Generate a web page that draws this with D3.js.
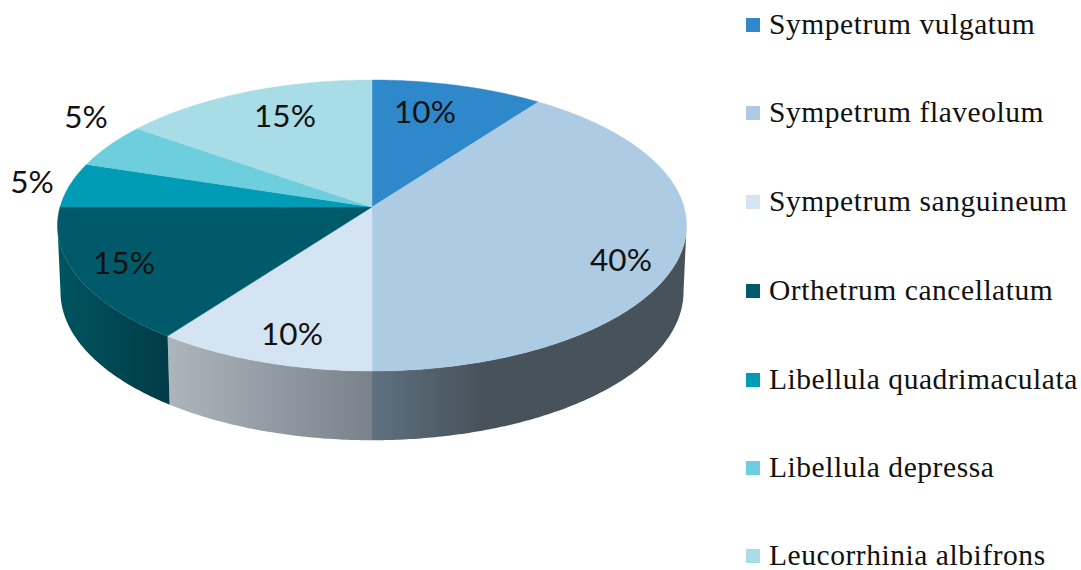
<!DOCTYPE html>
<html><head><meta charset="utf-8">
<script src="https://cdnjs.cloudflare.com/ajax/libs/d3/7.8.5/d3.min.js"></script>
<style>html,body{margin:0;background:#fff}svg{display:block}</style></head>
<body><svg id="c" width="1081" height="570"></svg>
<script>
const species = ["Sympetrum vulgatum","Sympetrum flaveolum","Sympetrum sanguineum","Orthetrum cancellatum","Libellula quadrimaculata","Libellula depressa","Leucorrhinia albifrons"];
const shares = [10,40,10,15,5,5,15];
const percentLabels = ["10%","40%","10%","15%","5%","5%","15%"];
const topColors = ["#2e88ca","#aecbe4","#d5e4f2","#005a6a","#009bb5","#6dcedd","#a8dde8"];
const wallLeft  = ["#2e88ca","#5f7180","#adb5bd","#00555f","#009bb5","#6dcedd","#a8dde8"];
const wallRight = ["#2e88ca","#47525b","#79828a","#003b47","#009bb5","#6dcedd","#a8dde8"];
const wallMidStop = [1,0.35,1,1,1,1,1];

// layout
const cx=372, persp=0.127;
const topDisc={rx:312,ry:143.2,y0:207}, baseDisc={rx:309,ry:146,y0:273};
const labelCentres=[[425,111],[621,259],[292,333],[124,262],[32,181],[86,116],[285,115]];
const legendRows=[25,113,202,291,380,468,556];

const svg=d3.select("#c"), defs=svg.append("defs");
const project=(a,r,disc)=>{const u=r*Math.sin(a),v=-r*Math.cos(a),w=1-persp*v;
  return [cx+disc.rx*u/w, disc.y0+disc.ry*v/w];};
const arcs=d3.pie().sort(null).startAngle(0).endAngle(2*Math.PI)(shares);
const line=d3.line();
const sweep=(a0,a1,disc)=>{const n=Math.max(2,Math.ceil((a1-a0)/0.01));
  return d3.range(n+1).map(i=>project(a0+(a1-a0)*i/n,1,disc));};

// walls: from one silhouette tangent to the other, round the front of the disc
const tangent=Math.asin(persp);
const gWalls=svg.append("g");
arcs.forEach((d,i)=>{
  const a0=Math.max(d.startAngle,Math.PI/2+tangent), a1=Math.min(d.endAngle,3*Math.PI/2-tangent);
  if(a1<=a0) return;
  const t=sweep(a0,a1,topDisc), b=sweep(a0,a1,baseDisc).reverse(), pts=t.concat(b);
  const xs=d3.extent(pts,p=>p[0]);
  const id="wall"+i;
  const g=defs.append("linearGradient").attr("id",id).attr("gradientUnits","userSpaceOnUse")
    .attr("x1",xs[0]).attr("x2",xs[1]).attr("y1",0).attr("y2",0);
  g.append("stop").attr("offset",0).attr("stop-color",wallLeft[i]);
  g.append("stop").attr("offset",wallMidStop[i]).attr("stop-color",wallRight[i]);
  gWalls.append("path").attr("d",line(pts)+"Z").attr("fill",`url(#${id})`);
});

// top face
const gTop=svg.append("g");
arcs.forEach((d,i)=>{
  const pts=[project(0,0,topDisc)].concat(sweep(d.startAngle,d.endAngle,topDisc));
  gTop.append("path").attr("d",line(pts)+"Z").attr("fill",topColors[i])
    .attr("stroke",topColors[i]).attr("stroke-width",0.4);
});

// percent labels
svg.append("g").selectAll("text").data(percentLabels).join("text")
  .attr("x",(d,i)=>labelCentres[i][0]).attr("y",(d,i)=>labelCentres[i][1])
  .attr("text-anchor","middle").attr("dominant-baseline","central")
  .attr("font-family","Lato, 'Open Sans', sans-serif").attr("font-size",31.5).attr("fill","#111")
  .text(d=>d);

// legend
const lg=svg.append("g").selectAll("g").data(species).join("g")
  .attr("transform",(d,i)=>`translate(746,${legendRows[i]})`);
lg.append("rect").attr("x",0).attr("y",-7).attr("width",14).attr("height",14).attr("fill",(d,i)=>topColors[i]);
lg.append("text").attr("x",23).attr("y",9).attr("font-family","'Liberation Serif',serif")
  .attr("font-size",29.5).attr("letter-spacing",0.55).attr("fill","#111").text(d=>d);
</script></body></html>
